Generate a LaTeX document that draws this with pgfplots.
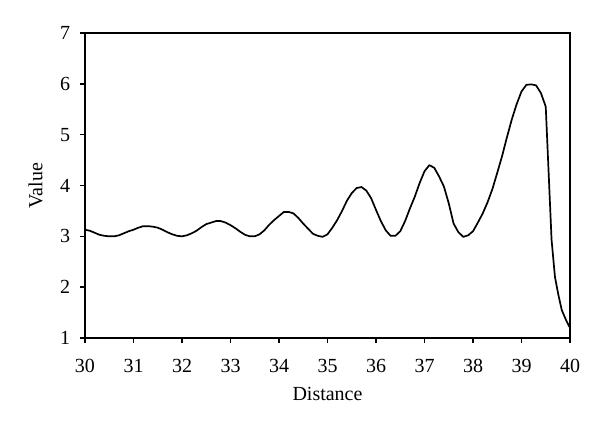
\documentclass[border=0pt]{standalone}
\usepackage{fontspec}
\setmainfont{Liberation Serif}
\usepackage{pgfplots}
\pgfplotsset{compat=1.18}
\begin{document}
\fontsize{20}{24}\selectfont
\begin{tikzpicture}
\useasboundingbox[fill=white] (-85pt,-88pt) rectangle (515pt,338pt);
\begin{axis}[
  at={(0pt,0pt)}, anchor=south west,
  scale only axis,
  width=485pt, height=305pt,
  xmin=30, xmax=40, ymin=1, ymax=7,
  xtick={30,31,...,40}, ytick={1,2,...,7},
  tick align=outside,
  major tick length=5pt,
  axis line style={line width=1.4pt},
  every tick/.style={line width=1.4pt, black},
  xtick pos=bottom, ytick pos=left,
  /pgf/number format/assume math mode=true,
  tick label style={font=\fontsize{20}{24}\selectfont},
  label style={font=\fontsize{20}{24}\selectfont},
  xticklabel style={yshift=-9pt},
  yticklabel style={xshift=-3pt},
  xlabel={Distance}, ylabel={Value},
  xlabel style={yshift=-1pt},
  ylabel style={yshift=4pt},
]
\addplot[black, line width=1.7pt, line join=round] coordinates {
(30.0,3.13) (30.1,3.11) (30.2,3.07) (30.3,3.03) (30.4,3.01) (30.5,3.00)
(30.6,3.00) (30.7,3.02) (30.8,3.06) (30.9,3.10) (31.0,3.13) (31.1,3.17)
(31.2,3.20) (31.3,3.20) (31.4,3.19) (31.5,3.17) (31.6,3.13) (31.7,3.08)
(31.8,3.04) (31.9,3.01) (32.0,3.00) (32.1,3.02) (32.2,3.06) (32.3,3.11)
(32.4,3.18) (32.5,3.24) (32.6,3.27) (32.7,3.30) (32.8,3.30) (32.9,3.27)
(33.0,3.22) (33.1,3.16) (33.2,3.09) (33.3,3.03) (33.4,3.00) (33.5,3.00)
(33.6,3.04) (33.7,3.12) (33.8,3.23) (33.9,3.32) (34.0,3.40) (34.1,3.48)
(34.2,3.48) (34.3,3.45) (34.4,3.36) (34.5,3.25) (34.6,3.15) (34.7,3.05)
(34.8,3.01) (34.9,2.99) (35.0,3.04) (35.1,3.17) (35.2,3.32) (35.3,3.50)
(35.4,3.70) (35.5,3.85) (35.6,3.95) (35.7,3.97) (35.8,3.90) (35.9,3.75)
(36.0,3.52) (36.1,3.30) (36.2,3.12) (36.3,3.01) (36.4,3.01) (36.5,3.10)
(36.6,3.30) (36.7,3.55) (36.8,3.78) (36.9,4.05) (37.0,4.28) (37.1,4.40)
(37.2,4.35) (37.3,4.18) (37.4,3.98) (37.5,3.65) (37.6,3.25) (37.7,3.08)
(37.8,2.99) (37.9,3.02) (38.0,3.10) (38.1,3.27) (38.2,3.45) (38.3,3.67)
(38.4,3.93) (38.5,4.25) (38.6,4.58) (38.7,4.95) (38.8,5.30) (38.9,5.60)
(39.0,5.85) (39.1,5.98) (39.2,5.99) (39.3,5.97) (39.4,5.82) (39.5,5.55)
(39.62,2.93) (39.69,2.20) (39.76,1.85) (39.83,1.55) (39.92,1.35) (40.0,1.2)
};
\end{axis}
\end{tikzpicture}
\end{document}
